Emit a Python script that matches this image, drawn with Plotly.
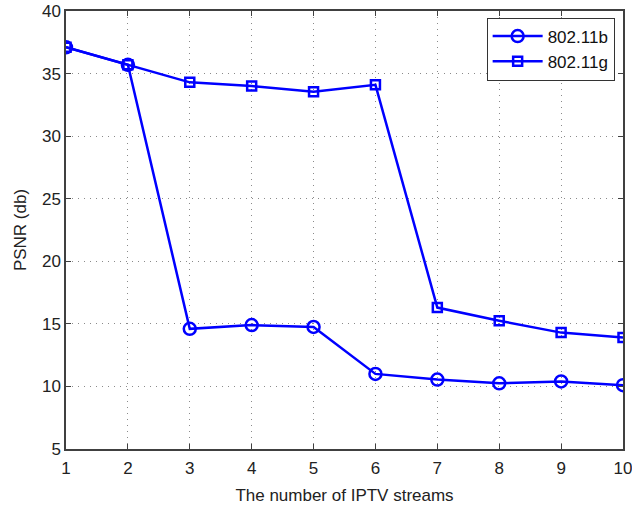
import plotly.graph_objects as go

streams = [1, 2, 3, 4, 5, 6, 7, 8, 9, 10]
psnr_b = [37.1, 35.7, 14.6, 14.9, 14.75, 11.0, 10.55, 10.25, 10.4, 10.1]
psnr_g = [37.1, 35.7, 34.3, 34.0, 33.55, 34.1, 16.3, 15.25, 14.3, 13.9]
x_ticks = [1, 2, 3, 4, 5, 6, 7, 8, 9, 10]
y_ticks = [5, 10, 15, 20, 25, 30, 35, 40]

FONT = "Liberation Sans, Arial"

fig = go.Figure()
fig.add_trace(go.Scatter(
    x=streams, y=psnr_b, name="802.11b", mode="lines+markers",
    line=dict(color="#0000ff", width=2.5),
    marker=dict(symbol="circle-open", size=12, color="#0000ff", line=dict(width=2.5))))
fig.add_trace(go.Scatter(
    x=streams, y=psnr_g, name="802.11g", mode="lines+markers",
    line=dict(color="#0000ff", width=2.5),
    marker=dict(symbol="square-open", size=9, color="#0000ff", line=dict(width=2.5))))

axis_common = dict(
    showline=True, linecolor="#404040", linewidth=1.5, mirror="ticks",
    ticks="inside", ticklen=5, tickcolor="#404040", tickwidth=1,
    showgrid=True, gridcolor="#8a8a8a", griddash="1px,5px", gridwidth=1,
    zeroline=False, automargin=False, ticklabeloverflow="allow",
    tickfont=dict(family=FONT, size=17, color="#222"),
)
fig.update_xaxes(range=[1, 10], tickvals=x_ticks, ticklabelstandoff=3,
                 title=dict(text="The number of IPTV streams", standoff=12,
                            font=dict(family=FONT, size=17, color="#222")),
                 **axis_common)
fig.update_yaxes(range=[5, 40], tickvals=y_ticks,
                 title=dict(text="PSNR (db)", standoff=11,
                            font=dict(family=FONT, size=17, color="#222")),
                 **axis_common)

fig.update_layout(
    width=632, height=506,
    margin=dict(l=66, r=9, t=11, b=57),
    plot_bgcolor="white", paper_bgcolor="white",
    showlegend=True,
    legend=dict(x=0.985, y=0.985, xanchor="right", yanchor="top",
                bordercolor="#333", borderwidth=1, bgcolor="white",
                font=dict(family=FONT, size=17, color="#111"),
                tracegroupgap=0, itemwidth=50),
)
fig.write_html("out.html")
